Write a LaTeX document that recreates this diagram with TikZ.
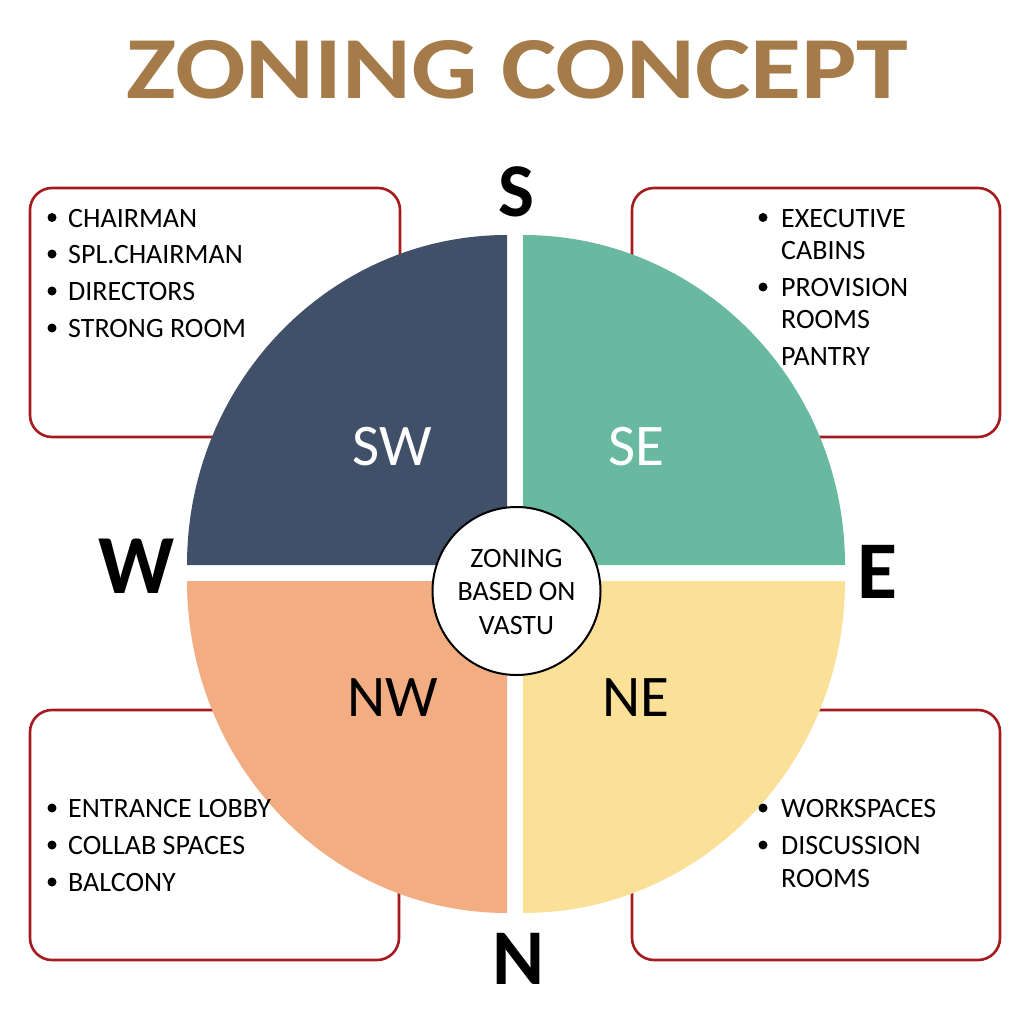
\documentclass[tikz,border=0pt]{standalone}
\usepackage{fontspec}
\usepackage{graphicx}
\setmainfont{Carlito}
\definecolor{titlec}{RGB}{165,123,74}
\definecolor{boxred}{RGB}{165,26,30}
\definecolor{swc}{RGB}{63,80,104}
\definecolor{sec}{RGB}{104,185,160}
\definecolor{nwc}{RGB}{243,173,131}
\definecolor{nec}{RGB}{251,224,152}
\tikzset{
  boxframe/.style={draw=boxred, line width=2.6pt, rounded corners=22pt, fill=white, inner sep=0pt},
  listtext/.style={anchor=base west, inner sep=0pt, font=\fontsize{28}{34}\selectfont, text=black},
  hubtext/.style={anchor=base, inner sep=0pt, font=\fontsize{28}{34}\selectfont, text=black},
  quadlabel/.style={anchor=base, inner sep=0pt, font=\fontsize{59}{60}\selectfont},
  compass/.style={anchor=base, inner sep=0pt, font=\bfseries\fontsize{#1}{#1}\selectfont, text=black},
  dot/.style={fill=black},
}
\begin{document}
\begin{tikzpicture}[x=1pt,y=-1pt]
\useasboundingbox[fill=white] (0,0) rectangle (1024,1024);

% title
\node[anchor=base, inner sep=0pt, text=titlec] (title) at (517.5,99)
  {\resizebox{781pt}{58pt}{\bfseries ZONING CONCEPT}};

% boxes
\node[boxframe, minimum width=370pt, minimum height=249pt] (boxsw) at (215,312.5) {};
\node[boxframe, minimum width=368pt, minimum height=249pt] (boxse) at (816,312.5) {};
\node[boxframe, minimum width=369pt, minimum height=250pt] (boxnw) at (214.5,835) {};
\node[boxframe, minimum width=368pt, minimum height=250pt] (boxne) at (816,835) {};

% quadrants
\fill[swc] (507,565) -- (187,565) arc[start angle=180, end angle=270, x radius=320, y radius=330] -- cycle;
\fill[sec] (523,565) -- (523,235) arc[start angle=270, end angle=360, x radius=322, y radius=330] -- cycle;
\fill[nec] (523,581) -- (845,581) arc[start angle=0, end angle=90, x radius=322, y radius=332] -- cycle;
\fill[nwc] (507,581) -- (507,913) arc[start angle=90, end angle=180, x radius=320, y radius=332] -- cycle;

% quadrant labels
\node[quadlabel, text=white] (lsw) at (392,465) {SW};
\node[quadlabel, text=white] (lse) at (636,465) {SE};
\node[quadlabel, text=black] (lnw) at (393,716) {NW};
\node[quadlabel, text=black] (lne) at (636,716) {NE};

% hub
\node[circle, draw=black, line width=2pt, fill=white, minimum size=168pt, inner sep=0pt] (hub) at (516.5,591) {};
\node[hubtext] (hub1) at (516.5,567) {ZONING};
\node[hubtext] (hub2) at (516.5,600) {BASED ON};
\node[hubtext] (hub3) at (516.5,634) {VASTU};

% compass letters
\node[compass=76] (cs) at (516,217) {S};
\node[compass=84] (cw) at (137,593) {W};
\node[compass=82] (ce) at (877,598) {E};
\node[compass=79] (cn) at (519,984) {N};

% SW list
\fill[dot] (52,217.5) circle[radius=4.5pt];
\fill[dot] (52,254) circle[radius=4.5pt];
\fill[dot] (52,291) circle[radius=4.5pt];
\fill[dot] (52,328) circle[radius=4.5pt];
\node[listtext] (sw1) at (68,227) {CHAIRMAN};
\node[listtext] (sw2) at (68,263.5) {SPL.CHAIRMAN};
\node[listtext] (sw3) at (68,300.5) {DIRECTORS};
\node[listtext] (sw4) at (68,337) {STRONG ROOM};

% SE list
\fill[dot] (763,217.5) circle[radius=4.5pt];
\fill[dot] (763,287) circle[radius=4.5pt];
\node[listtext] (se1) at (781,227) {EXECUTIVE};
\node[listtext] (se2) at (781,259) {CABINS};
\node[listtext] (se3) at (781,296) {PROVISION};
\node[listtext] (se4) at (781,328) {ROOMS};
\node[listtext] (se5) at (781,365) {PANTRY};

% NW list
\fill[dot] (52,808) circle[radius=4.5pt];
\fill[dot] (52,845) circle[radius=4.5pt];
\fill[dot] (52,882) circle[radius=4.5pt];
\node[listtext] (nw1) at (68,817) {ENTRANCE LOBBY};
\node[listtext] (nw2) at (68,854) {COLLAB SPACES};
\node[listtext] (nw3) at (68,891) {BALCONY};

% NE list
\fill[dot] (763,808) circle[radius=4.5pt];
\fill[dot] (763,845) circle[radius=4.5pt];
\node[listtext] (ne1) at (781,817) {WORKSPACES};
\node[listtext] (ne2) at (781,854) {DISCUSSION};
\node[listtext] (ne3) at (781,887) {ROOMS};
\end{tikzpicture}
\end{document}
